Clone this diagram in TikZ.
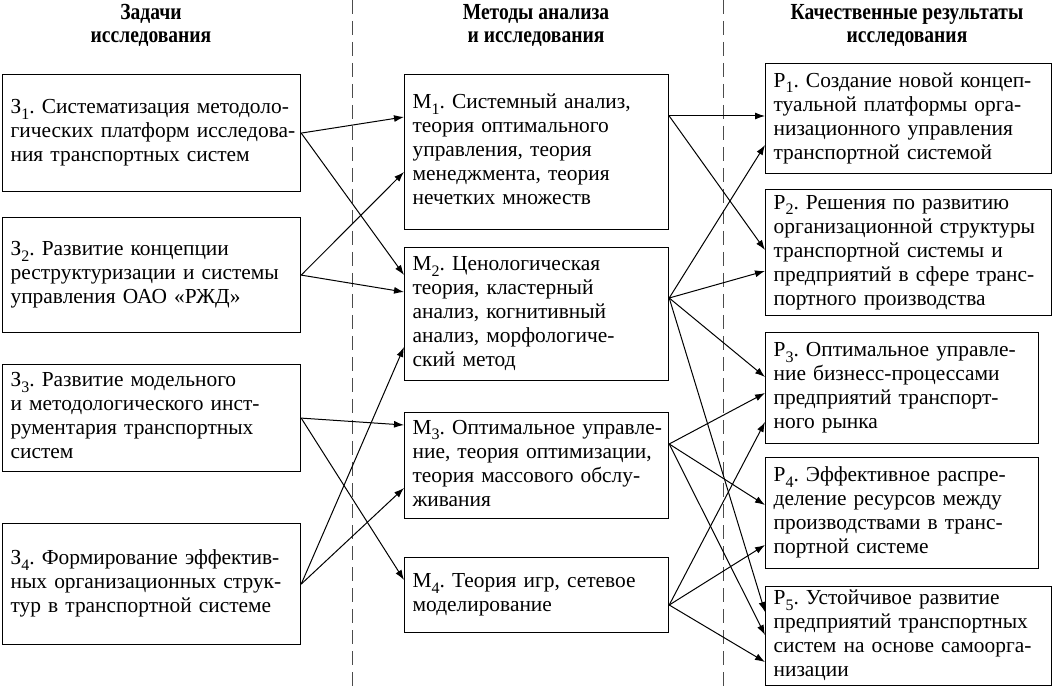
\documentclass[tikz,border=0pt]{standalone}
\usepackage{fontspec}
\setmainfont{Liberation Serif}
\newfontfamily\headfont[FakeStretch=0.85]{Liberation Serif}
\usetikzlibrary{arrows.meta,calc}
\newcommand{\lowix}[1]{\raisebox{-0.55ex}{\footnotesize #1}}
\newcommand{\boxrows}[1]{\begin{tabular}{@{}l@{}}#1\end{tabular}}
\frenchspacing

\begin{document}
\begin{tikzpicture}[x=0.5pt,y=-0.5pt,
        every node/.style={font=\fontsize{10.7}{12}\selectfont},
        box/.style={draw, line width=.6pt, anchor=north west, inner xsep=4pt, inner ysep=0pt, align=left},
        zbox/.style={box, text width=141pt},
        mbox/.style={box, text width=124pt},
        pbox/.style={box, text width=135pt},
        head/.style={font=\headfont\bfseries\fontsize{11.5}{11.5}\selectfont, align=center},
        sep/.style={dash pattern=on 7pt off 3.5pt, line width=.5pt, black!70},
        arr/.style={-{Latex[length=5pt,width=3.5pt]}, line width=.5pt}]
        \useasboundingbox (0,0) rectangle (1052,688);
        % column heads
        \node[head] (hz) at (151,25) {Задачи\\исследования};
        \node[head] (hm) at (536,25) {Методы анализа\\и исследования};
        \node[head] (hp) at (907,25) {Качественные результаты\\исследования};
        \draw[sep] (352,0) -- (352,688);
        \draw[sep] (723,0) -- (723,688);
        % tasks
        \node[zbox, minimum height=58.5pt] (z1) at (2,74) {\boxrows{З\lowix{1}. Систематизация методоло-\\гических платформ исследова-\\ния транспортных систем}};
        \node[zbox, minimum height=57.5pt] (z2) at (2,217) {\boxrows{З\lowix{2}. Развитие концепции\\реструктуризации и системы\\управления ОАО «РЖД»}};
        \node[zbox, minimum height=53.5pt] (z3) at (2,364) {\boxrows{З\lowix{3}. Развитие модельного\\и методологического инст-\\рументария транспортных\\систем}};
        \node[zbox, minimum height=60.5pt] (z4) at (2,523) {\boxrows{З\lowix{4}. Формирование эффектив-\\ных организационных струк-\\тур в транспортной системе}};
        % methods
        \node[mbox, minimum height=77.5pt] (m1) at (404,74) {\boxrows{М\lowix{1}. Системный анализ,\\теория оптимального\\управления, теория\\менеджмента, теория\\нечетких множеств}};
        \node[mbox, minimum height=66.5pt] (m2) at (404,247) {\boxrows{М\lowix{2}. Ценологическая\\теория, кластерный\\анализ, когнитивный\\анализ, морфологиче-\\ский метод}};
        \node[mbox, minimum height=53pt] (m3) at (404,412) {\boxrows{М\lowix{3}. Оптимальное управле-\\ние, теория оптимизации,\\теория массового обслу-\\живания}};
        \node[mbox, minimum height=37.5pt] (m4) at (404,557) {\boxrows{М\lowix{4}. Теория игр, сетевое\\моделирование}};
        % results
        \node[pbox, minimum height=55pt] (p1) at (765,63) {\boxrows{Р\lowix{1}. Создание новой концеп-\\туальной платформы орга-\\низационного управления\\транспортной системой}};
        \node[pbox, minimum height=63pt] (p2) at (765,189) {\boxrows{Р\lowix{2}. Решения по развитию\\организационной структуры\\транспортной системы и\\предприятий в сфере транс-\\портного производства}};
        \node[pbox, text width=128.5pt, minimum height=55.5pt] (p3) at (765,332) {\boxrows{Р\lowix{3}. Оптимальное управле-\\ние бизнесс-процессами\\предприятий транспорт-\\ного рынка}};
        \node[pbox, text width=128.5pt, minimum height=55.5pt] (p4) at (765,457) {\boxrows{Р\lowix{4}. Эффективное распре-\\деление ресурсов между\\производствами в транс-\\портной системе}};
        \node[pbox, minimum height=49.5pt] (p5) at (765,586) {\boxrows{Р\lowix{5}. Устойчивое развитие\\предприятий транспортных\\систем на основе самоорга-\\низации}};
        % tasks -> methods
        \draw[arr] (z1.east) -- ($(m1.north west)+(0,43)$);
        \draw[arr] (z1.east) -- ($(m2.north west)+(0,28)$);
        \draw[arr] (z2.east) -- ($(m1.north west)+(0,98)$);
        \draw[arr] (z2.east) -- ($(m2.north west)+(0,45)$);
        \draw[arr] (z3.east) -- ($(m3.north west)+(0,13)$);
        \draw[arr] (z3.east) -- ($(m4.north west)+(0,23)$);
        \draw[arr] (z4.east) -- ($(m2.north west)+(0,100)$);
        \draw[arr] (z4.east) -- ($(m3.north west)+(0,76)$);
        % methods -> results
        \draw[arr] ($(m1.north east)+(0,42)$) -- ($(p1.north west)+(0,53)$);
        \draw[arr] ($(m1.north east)+(0,42)$) -- ($(p2.north west)+(0,61)$);
        \draw[arr] ($(m2.north east)+(0,51)$) -- ($(p1.north west)+(0,82)$);
        \draw[arr] ($(m2.north east)+(0,51)$) -- ($(p2.north west)+(0,82)$);
        \draw[arr] ($(m2.north east)+(0,51)$) -- ($(p3.north west)+(0,45)$);
        \draw[arr] ($(m2.north east)+(0,51)$) -- ($(p5.north west)+(0,26)$);
        \draw[arr] ($(m3.north east)+(0,32)$) -- ($(p3.north west)+(0,61)$);
        \draw[arr] ($(m3.north east)+(0,32)$) -- ($(p4.north west)+(0,48)$);
        \draw[arr] ($(m3.north east)+(0,32)$) -- ($(p5.north west)+(0,49)$);
        \draw[arr] ($(m4.north east)+(0,48)$) -- ($(p3.north west)+(0,90)$);
        \draw[arr] ($(m4.north east)+(0,48)$) -- ($(p4.north west)+(0,88)$);
        \draw[arr] ($(m4.north east)+(0,48)$) -- ($(p5.north west)+(0,76)$);
\end{tikzpicture}
\end{document}
